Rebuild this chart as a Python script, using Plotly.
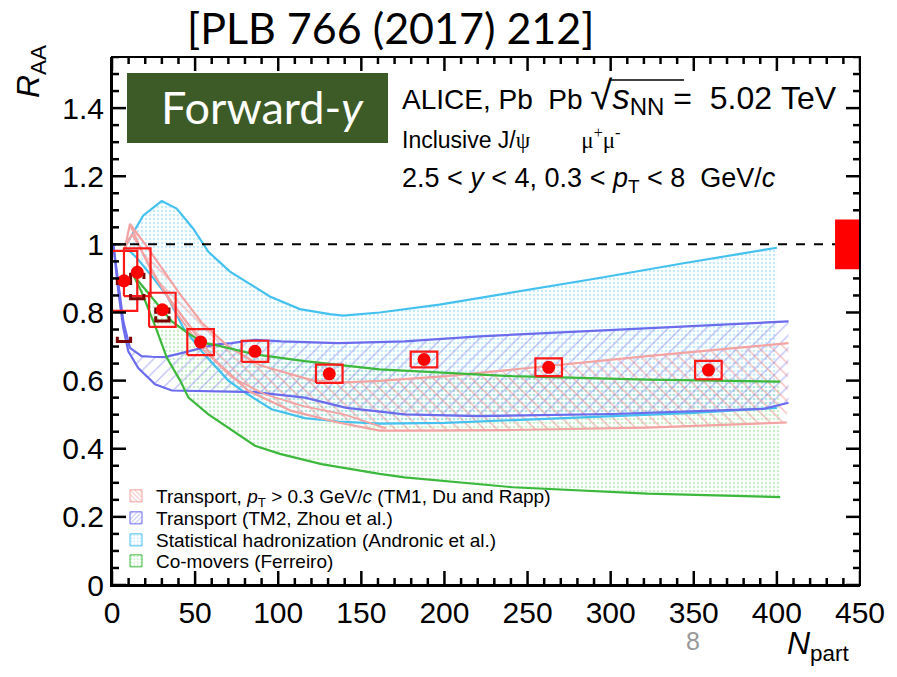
import plotly.graph_objects as go

# ---------------- data ----------------
npart = [7.2, 15.2, 30.3, 53.3, 86.0, 130.7, 187.7, 262.7, 358.8]
raa = [0.893, 0.918, 0.808, 0.713, 0.686, 0.620, 0.662, 0.639, 0.631]
raa_stat = [0.02, 0.02, 0.015, 0.012, 0.01, 0.01, 0.01, 0.01, 0.01]
raa_syst = [0.088, 0.070, 0.050, 0.038, 0.031, 0.027, 0.023, 0.026, 0.027]
# correlated-uncertainty brackets (visible for the three most peripheral bins)
br_npart = [7.2, 15.2, 30.3]
br_hi = [0.895, 0.912, 0.810]
br_lo = [0.715, 0.840, 0.775]
global_unc = 0.073

# Statistical hadronization (Andronic et al.)
shm_up_x = [7.8, 18.8, 29.9, 38.9, 48.9, 58, 71, 95, 113, 131, 139, 161, 197, 245, 294, 342, 378, 400]
shm_up_y = [0.993, 1.085, 1.127, 1.105, 1.046, 0.978, 0.92, 0.847, 0.81, 0.795, 0.791, 0.80, 0.823, 0.861, 0.902, 0.943, 0.972, 0.99]
shm_lo_x = [7.8, 15, 25, 33, 43, 55, 70, 80, 96, 116, 136, 161, 200, 241, 300, 350, 400]
shm_lo_y = [0.993, 0.96, 0.90, 0.85, 0.754, 0.68, 0.60, 0.565, 0.516, 0.49, 0.48, 0.474, 0.476, 0.484, 0.497, 0.505, 0.52]

# Transport TM2 (Zhou et al.)
tm2_up_x = [0.8, 3.8, 6.8, 10.8, 17.8, 24, 31.9, 46, 62, 72, 86, 102, 136, 176, 221, 302, 407]
tm2_up_y = [1.0, 0.89, 0.774, 0.696, 0.672, 0.670, 0.669, 0.686, 0.706, 0.71, 0.72, 0.715, 0.71, 0.715, 0.73, 0.749, 0.774]
tm2_lo_x = [0.8, 3.8, 6.8, 9.8, 15.8, 25.9, 36, 56, 86, 116, 141, 176, 221, 301, 392, 407]
tm2_lo_y = [1.0, 0.861, 0.754, 0.686, 0.637, 0.589, 0.571, 0.569, 0.566, 0.55, 0.52, 0.501, 0.496, 0.502, 0.517, 0.535]

# Transport TM1 (Du and Rapp)
tm1_up_x = [7.8, 10.8, 20, 30, 40, 54, 70, 89, 101, 121, 140, 161, 201, 262, 322, 407]
tm1_up_y = [0.99, 1.06, 1.0, 0.93, 0.86, 0.77, 0.70, 0.645, 0.628, 0.60, 0.595, 0.599, 0.613, 0.642, 0.672, 0.71]
tm1_mid_x = [10.8, 18, 28, 40, 55, 72, 92, 115, 140, 165]
tm1_mid_y = [1.06, 0.98, 0.89, 0.79, 0.69, 0.61, 0.56, 0.525, 0.50, 0.46]
tm1_lo_x = [7.8, 12, 15.8, 24, 36, 48, 62, 82, 108, 136, 161, 176, 241, 322, 406]
tm1_lo_y = [0.99, 1.03, 1.0, 0.92, 0.83, 0.75, 0.66, 0.57, 0.511, 0.477, 0.453, 0.453, 0.455, 0.462, 0.477]

# Co-movers (Ferreiro)
com_up_x = [12.8, 17.8, 26, 36, 47, 56, 62, 86, 116, 161, 241, 322, 402]
com_up_y = [0.91, 0.881, 0.83, 0.774, 0.735, 0.71, 0.705, 0.677, 0.657, 0.633, 0.613, 0.603, 0.597]
com_lo_x = [12.8, 17.8, 26, 33, 41, 46, 58, 86, 101, 126, 161, 176, 241, 322, 402]
com_lo_y = [0.91, 0.86, 0.76, 0.667, 0.60, 0.55, 0.501, 0.409, 0.385, 0.355, 0.326, 0.316, 0.287, 0.268, 0.258]

legend_names = [
    "Transport, <i>p</i><sub>T</sub> > 0.3 GeV/<i>c</i> (TM1, Du and Rapp)",
    "Transport (TM2, Zhou et al.)",
    "Statistical hadronization (Andronic et al.)",
    "Co-movers (Ferreiro)",
]

# axis ticks
x_major = [0, 50, 100, 150, 200, 250, 300, 350, 400, 450]
x_labels = ["0", "50", "100", "150", "200", "250", "300", "350", "400", "450"]
x_minor = [v for v in range(0, 451, 10) if v % 50 != 0]
y_major = [0, 0.2, 0.4, 0.6, 0.8, 1.0, 1.2, 1.4]
y_labels = ["0", "0.2", "0.4", "0.6", "0.8", "1", "1.2", "1.4"]
y_minor = [round(0.05 * k, 2) for k in range(0, 32) if k % 4 != 0]

# ---------------- styles ----------------
C_SHM, C_SHM_F = "#45c1ef", "#8fd6f3"
C_TM2, C_TM2_F = "#6b6bee", "#7d7df0"
C_TM1, C_TM1_F = "#f4a3a3", "#ee8080"
C_COM, C_COM_F = "#3cb93c", "#95dc95"
FONT = "Liberation Sans, Arial, sans-serif"
CAL = "Lato, Open Sans, sans-serif"

W, H = 897, 677
L, R, T, B = 112, 37, 57, 92
XR = [0, 450]
YR = [0, 1.55]
PXX = (W - L - R) / (XR[1] - XR[0])   # pixels per x unit
PXY = (H - T - B) / (YR[1] - YR[0])   # pixels per y unit

fig = go.Figure()


def band(xu, yu, xl, yl, fcolor, shape, size, solidity):
    fig.add_trace(go.Scatter(
        x=list(xu) + list(xl)[::-1], y=list(yu) + list(yl)[::-1],
        mode="lines", fill="toself", fillcolor="rgba(0,0,0,0)",
        fillpattern=dict(shape=shape, fgcolor=fcolor, bgcolor="rgba(0,0,0,0)",
                         size=size, solidity=solidity),
        line=dict(width=0), showlegend=False, hoverinfo="skip"))


def edge(x, y, color, width=2.2):
    fig.add_trace(go.Scatter(x=x, y=y, mode="lines", line=dict(color=color, width=width),
                             showlegend=False, hoverinfo="skip"))


band(com_up_x, com_up_y, com_lo_x, com_lo_y, C_COM_F, ".", 4, 0.35)
band(shm_up_x, shm_up_y, shm_lo_x, shm_lo_y, C_SHM_F, ".", 4, 0.35)
band(tm2_up_x, tm2_up_y, tm2_lo_x, tm2_lo_y, C_TM2_F, "/", 9, 0.14)
band(tm1_up_x, tm1_up_y, tm1_lo_x, tm1_lo_y, C_TM1_F, "\\", 9, 0.16)

edge(shm_up_x, shm_up_y, C_SHM)
edge(shm_lo_x, shm_lo_y, C_SHM)
edge(tm2_up_x, tm2_up_y, C_TM2)
edge(tm2_lo_x, tm2_lo_y, C_TM2)
edge(tm1_up_x, tm1_up_y, C_TM1)
edge(tm1_mid_x, tm1_mid_y, C_TM1, 1.8)
edge(tm1_lo_x, tm1_lo_y, C_TM1)
edge(com_up_x, com_up_y, C_COM)
edge(com_lo_x, com_lo_y, C_COM)

# legend entries (patterned swatches), one small legend per entry for exact spacing
leg_keys = ["legend", "legend2", "legend3", "legend4"]
for key, name, fc, lc, shp in zip(leg_keys, legend_names,
                                  [C_TM1_F, C_TM2_F, C_SHM_F, C_COM_F],
                                  [C_TM1, C_TM2, C_SHM, C_COM],
                                  ["\\", "/", ".", "."]):
    fig.add_trace(go.Bar(x=[None], y=[None], name=name, legend=key,
                         marker=dict(color="white", line=dict(color=lc, width=1),
                                     pattern=dict(shape=shp, fgcolor=fc, bgcolor="white",
                                                  size=4, solidity=0.3))))

# unity line up to global box
gx0 = 435
fig.add_trace(go.Scatter(x=[0, gx0], y=[1, 1], mode="lines",
                         line=dict(color="black", width=2, dash="dash"),
                         showlegend=False, hoverinfo="skip"))

# systematic boxes
hw = 8
bx, by = [], []
for n, r, s in zip(npart, raa, raa_syst):
    bx += [n - hw, n + hw, n + hw, n - hw, n - hw, None]
    by += [r - s, r - s, r + s, r + s, r - s, None]
fig.add_trace(go.Scatter(x=bx, y=by, mode="lines", line=dict(color="#ff1a1a", width=2.2),
                         showlegend=False, hoverinfo="skip", cliponaxis=False))

# correlated brackets
bw, tip = 4, 0.014
kx, ky = [], []
for n, hi, lo in zip(br_npart, br_hi, br_lo):
    kx += [n - bw, n - bw, n + bw, n + bw, None, n - bw, n - bw, n + bw, n + bw, None]
    ky += [hi - tip, hi, hi, hi - tip, None, lo + tip, lo, lo, lo + tip, None]
fig.add_trace(go.Scatter(x=kx, y=ky, mode="lines", line=dict(color="#7a0000", width=3),
                         showlegend=False, hoverinfo="skip", cliponaxis=False))

# data points
fig.add_trace(go.Scatter(x=npart, y=raa, mode="markers",
                         marker=dict(color="#ff0000", size=13),
                         error_y=dict(type="data", array=raa_stat, color="#ff0000",
                                      thickness=2, width=0),
                         showlegend=False, hoverinfo="skip"))

# inside tick marks on all four sides (ROOT style), drawn as axis-referenced shapes
tick_line = dict(color="black", width=2.5)
for vals, plen in ((x_major, 14), (x_minor, 7)):
    dy = plen / PXY
    for v in vals:
        fig.add_shape(type="line", xref="x", yref="y", x0=v, x1=v, y0=YR[0], y1=YR[0] + dy,
                      line=tick_line, layer="above")
        fig.add_shape(type="line", xref="x", yref="y", x0=v, x1=v, y0=YR[1], y1=YR[1] - dy,
                      line=tick_line, layer="above")
for vals, plen in ((y_major, 14), (y_minor, 7)):
    dx = plen / PXX
    for v in vals:
        fig.add_shape(type="line", xref="x", yref="y", x0=XR[0], x1=XR[0] + dx, y0=v, y1=v,
                      line=tick_line, layer="above")
        fig.add_shape(type="line", xref="x", yref="y", x0=XR[1], x1=XR[1] - dx, y0=v, y1=v,
                      line=tick_line, layer="above")

# global uncertainty box
fig.add_shape(type="rect", xref="x", yref="y", x0=gx0, x1=450,
              y0=1 - global_unc, y1=1 + global_unc,
              fillcolor="#ff0000", line=dict(width=0), layer="above")

# frame
fig.add_shape(type="rect", xref="paper", yref="paper", x0=0, x1=1, y0=0, y1=1,
              line=dict(color="black", width=2), fillcolor="rgba(0,0,0,0)", layer="above")


def pp(px, py):
    return (px - L) / float(W - L - R), (H - B - py) / float(H - T - B)


# Forward-y label box
bx0, by0 = pp(127, 143)
bx1, by1 = pp(388, 73)
fig.add_shape(type="rect", xref="paper", yref="paper", x0=bx0, x1=bx1, y0=by0, y1=by1,
              fillcolor="#3d5b26", line=dict(width=0))

# overline of the square root
ox0, oy = pp(610, 80)
ox1, _ = pp(684, 80)
fig.add_shape(type="line", xref="paper", yref="paper", x0=ox0, x1=ox1, y0=oy, y1=oy,
              line=dict(color="black", width=1.5))


def note(text, px, py, size, xanchor="left", color="black", family=FONT, angle=0):
    x, y = pp(px, py)
    fig.add_annotation(text=text, x=x, y=y, xref="paper", yref="paper", showarrow=False,
                       xanchor=xanchor, yanchor="middle", textangle=angle,
                       font=dict(size=size, color=color, family=family))


note("[PLB 766 (2017) 212]", 390, 28, 43, xanchor="center", family=CAL)
note("Forward-<i>y</i>", 262, 107, 45, xanchor="center", color="white", family=CAL)
note("ALICE, Pb\u00a0\u00a0Pb <span style='font-size:40px'>\u221a</span>"
     "<span style='font-size:35px'><i>s</i></span><sub><span style='font-size:24px'>NN</span></sub>"
     "<span style='font-size:32px'>\u00a0=\u00a0\u00a05.02\u00a0TeV</span>",
     400, 96, 28)
note("Inclusive J/<span style='font-family:Liberation Serif'>\u03c8</span>"
     "\u00a0\u00a0\u00a0\u00a0\u00a0\u00a0\u00a0\u00a0"
     "<span style='font-family:Liberation Serif'>\u03bc<sup>+</sup>\u03bc<sup>-</sup></span>",
     400, 138, 23)
note("2.5 < <i>y</i> < 4, 0.3 < <i>p</i><sub>T</sub> < 8\u00a0\u00a0GeV/<i>c</i>", 400, 180, 27)
note("<i>R</i><sub>AA</sub>", 30, 72, 32, xanchor="center", angle=-90)
note("<i>N</i><sub>part</sub>", 818, 645, 32, xanchor="center")
note("8", 693, 641, 25, xanchor="center", color="#999999")

axis_main = dict(showline=True, linecolor="black", linewidth=2, ticks="",
                 showgrid=False, zeroline=False,
                 tickfont=dict(family=FONT, size=30, color="black"))

fig.update_layout(
    xaxis=dict(type="linear", range=XR, tickmode="array", tickvals=x_major,
               ticktext=x_labels, **axis_main),
    yaxis=dict(range=YR, tickmode="array", tickvals=y_major, ticktext=y_labels,
               **axis_main),
)

leg_common = dict(xanchor="left", yanchor="middle", bgcolor="rgba(0,0,0,0)",
                  font=dict(family=FONT, size=19, color="black"), borderwidth=0)
legend_layout = {}
for key, cy in zip(leg_keys, [496, 518, 540, 561]):
    lx, ly = pp(116, cy)
    legend_layout[key] = dict(x=lx, y=ly, **leg_common)

fig.update_layout(
    width=W, height=H,
    margin=dict(l=L, r=R, t=T, b=B),
    paper_bgcolor="white", plot_bgcolor="white",
    showlegend=True,
    font=dict(family=FONT),
    **legend_layout,
)

fig.write_html("out.html")
